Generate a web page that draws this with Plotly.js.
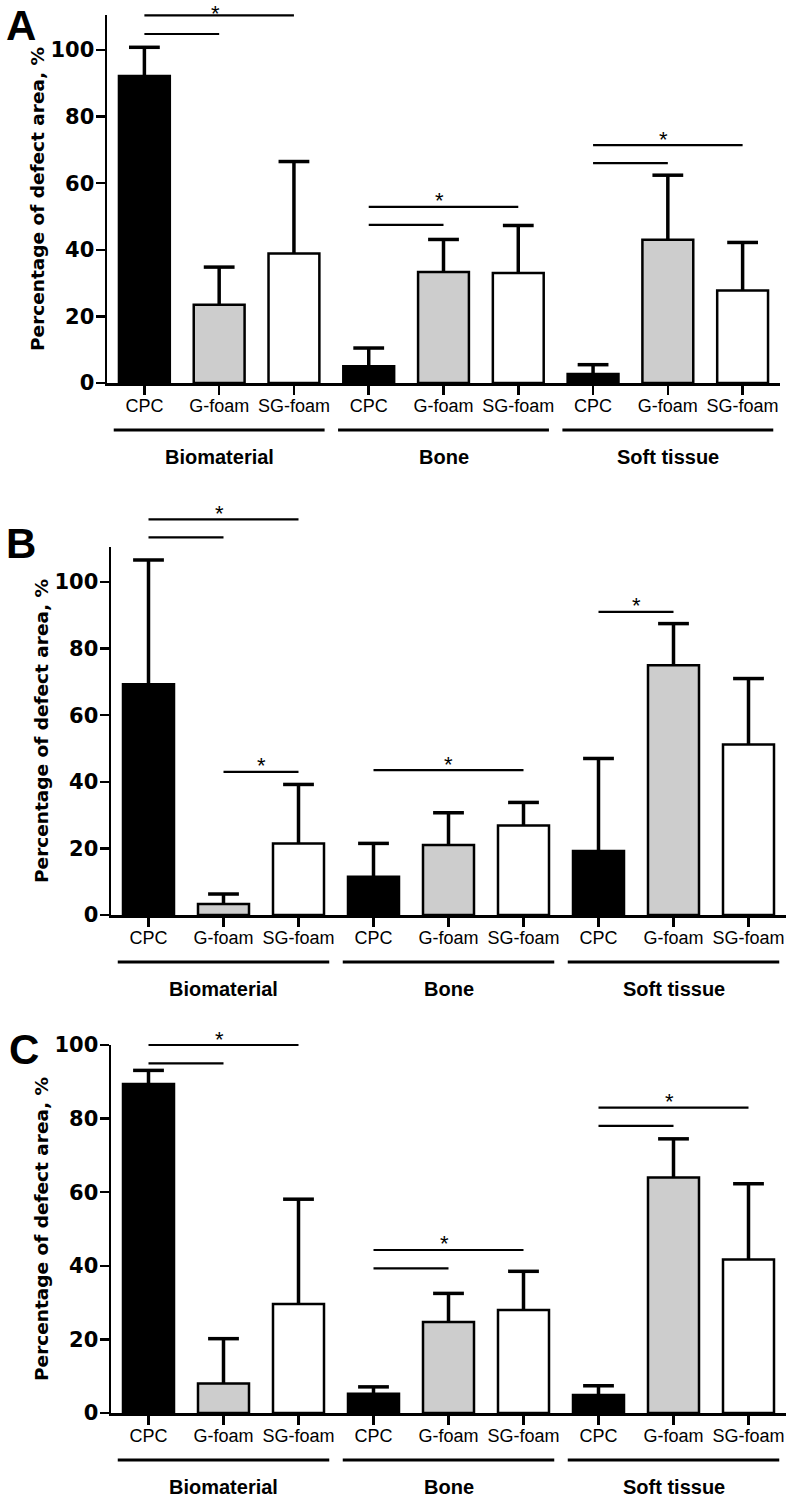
<!DOCTYPE html>
<html><head><meta charset="utf-8">
<script src="https://cdn.plot.ly/plotly-3.0.1.min.js"></script>
<style>html,body{margin:0;padding:0;background:#fff}#chart{width:788px;height:1497px}</style>
</head><body><div id="chart"></div>
<script>
// ---- data ----
const groups = ['Biomaterial', 'Bone', 'Soft tissue'];
const materials = ['CPC', 'G-foam', 'SG-foam'];
const panelLetters = ['A', 'B', 'C'];
const yTitle = 'Percentage of defect area, %';
const yTickVals = [0, 20, 40, 60, 80, 100];

// order: Biomaterial (CPC, G-foam, SG-foam), Bone (...), Soft tissue (...)
const meanA = [92.2, 23.5, 38.9, 5.0, 33.3, 33.0, 2.7, 43.0, 27.8];
const sdA   = [8.6, 11.3, 27.6, 5.5, 9.8, 14.3, 2.8, 19.4, 14.4];
const meanB = [69.3, 3.3, 21.5, 11.5, 21.0, 26.9, 19.2, 75.0, 51.2];
const sdB   = [37.3, 3.0, 17.7, 10.0, 9.7, 6.9, 27.8, 12.5, 19.8];
const meanC = [89.4, 8.0, 29.6, 5.2, 24.7, 28.0, 4.9, 64.0, 41.7];
const sdC   = [3.7, 12.2, 28.5, 1.9, 7.8, 10.5, 2.5, 10.5, 20.6];

// significance brackets: [fromIndex, toIndex, level (%), asterisk]
const sigA = [[0, 2, 110.4, true], [0, 1, 104.8, false], [3, 5, 52.9, true], [3, 4, 47.5, false], [6, 8, 71.4, true], [6, 7, 66.0, false]];
const sigB = [[0, 2, 118.8, true], [0, 1, 113.4, false], [1, 2, 43.0, true], [3, 5, 43.5, true], [6, 7, 91.0, true]];
const sigC = [[0, 2, 100.0, true], [0, 1, 95.0, false], [3, 5, 44.3, true], [3, 4, 39.3, false], [6, 8, 83.0, true], [6, 7, 78.0, false]];

// ---- styling / layout ----
const W = 788, H = 1497;
const fillColors = ['#000000', '#cdcdcd', '#ffffff'];
const panels = [
  {mean: meanA, sd: sdA, sig: sigA, ymax: 110.5, px: [107, 780], py: [15, 383], letter: [21, 25]},
  {mean: meanB, sd: sdB, sig: sigB, ymax: 110.5, px: [111, 786], py: [547, 915], letter: [21, 543]},
  {mean: meanC, sd: sdC, sig: sigC, ymax: 100, px: [111, 786], py: [1045, 1413], letter: [24, 1049]}
];
const xIdx = [];
const tickText = [];
const barColors = [];
groups.forEach((g, gi) => materials.forEach((m, mi) => {
  xIdx.push(gi * 3 + mi); tickText.push(m); barColors.push(fillColors[mi]);
}));

const data = [];
const layout = {
  width: W, height: H,
  margin: {l: 0, r: 0, t: 0, b: 0, autoexpand: false},
  paper_bgcolor: '#fff', plot_bgcolor: '#fff',
  barmode: 'overlay', showlegend: false,
  shapes: [], annotations: [],
  font: {family: 'Liberation Sans, Arial, sans-serif', color: '#000'}
};

panels.forEach((p, i) => {
  const s = i === 0 ? '' : String(i + 1);
  const xa = 'x' + s, ya = 'y' + s;
  data.push({
    type: 'bar', x: xIdx, y: p.mean, width: 0.68, xaxis: xa, yaxis: ya,
    marker: {color: barColors, line: {color: '#000', width: 2.5}},
    hoverinfo: 'x+y'
  });
  // upward-only error bars: cap marker at mean+SD, stem down to the bar top
  data.push({
    type: 'scatter', mode: 'markers', x: xIdx, y: p.mean.map((m, k) => m + p.sd[k]),
    xaxis: xa, yaxis: ya, cliponaxis: false,
    marker: {symbol: 'line-ew', size: 22, color: '#000', line: {color: '#000', width: 3.5}},
    error_y: {type: 'data', symmetric: false, array: p.sd.map(() => 0), arrayminus: p.sd,
              color: '#000', thickness: 3.5, width: 0},
    hoverinfo: 'skip'
  });
  const yTop = 1 - p.py[0] / H, yBot = 1 - p.py[1] / H;
  const domH = p.py[1] - p.py[0];
  layout['xaxis' + s] = {
    domain: [p.px[0] / W, p.px[1] / W], anchor: ya, range: [-0.5, 8.5],
    tickmode: 'array', tickvals: xIdx, ticktext: tickText,
    showline: true, linecolor: '#000', linewidth: 2.5,
    ticks: 'outside', ticklen: 9, tickwidth: 2.5, tickcolor: '#000',
    showgrid: false, zeroline: false, fixedrange: true,
    ticklabelstandoff: -4,
    tickfont: {family: 'Liberation Sans, Arial, sans-serif', size: 18, color: '#000'}
  };
  layout['yaxis' + s] = {
    domain: [yBot, yTop], anchor: xa, range: [0, p.ymax],
    tickmode: 'array', tickvals: yTickVals,
    showline: true, linecolor: '#000', linewidth: 2.5,
    ticks: 'outside', ticklen: 9, tickwidth: 2.5, tickcolor: '#000',
    showgrid: false, zeroline: false, fixedrange: true,
    ticklabelstandoff: -3,
    tickfont: {family: 'DejaVu Sans, sans-serif', size: 21, weight: 'bold', color: '#000'},
    title: {text: yTitle, standoff: 1,
            font: {family: 'DejaVu Sans, sans-serif', size: 18.5, weight: 'bold', color: '#000'}}
  };
  // significance brackets
  p.sig.forEach(([a, b, lvl, star]) => {
    layout.shapes.push({type: 'line', xref: xa, yref: ya + ' domain',
      x0: a, x1: b, y0: lvl / p.ymax, y1: lvl / p.ymax,
      line: {color: '#000', width: 2.2}});
    if (star) {
      const single = !p.sig.some(q => q[0] === a && q[1] !== b && !q[3]);
      const linePx = p.py[0] + (1 - lvl / p.ymax) * domH;   // distance from page top
      const lift = Math.max(1, Math.min(6, linePx - 13));   // keep text box inside page
      layout.annotations.push({xref: xa, yref: ya + ' domain', x: (a + b) / 2, y: lvl / p.ymax,
        text: '*', showarrow: false, xanchor: 'center', yanchor: 'middle', yshift: lift,
        borderpad: 0, xshift: single ? 0 : -4,
        font: {family: 'Liberation Sans, Arial, sans-serif', size: 22, color: '#000'}});
    }
  });
  // group underlines and labels
  groups.forEach((g, gi) => {
    const c = gi * 3 + 1;
    layout.shapes.push({type: 'line', xref: xa, yref: ya + ' domain',
      x0: c - 1.41, x1: c + 1.41, y0: -47 / domH, y1: -47 / domH,
      line: {color: '#000', width: 3}});
    layout.annotations.push({xref: xa, yref: ya + ' domain', x: c, y: -74 / domH,
      text: g, showarrow: false, xanchor: 'center', yanchor: 'middle',
      font: {family: 'Liberation Sans, Arial, sans-serif', size: 20, weight: 'bold', color: '#000'}});
  });
  // panel letter
  layout.annotations.push({xref: 'paper', yref: 'paper', x: p.letter[0] / W, y: 1 - p.letter[1] / H,
    text: panelLetters[i], showarrow: false, xanchor: 'center', yanchor: 'middle', borderpad: 0,
    font: {family: 'Liberation Sans, Arial, sans-serif', size: 42, weight: 'bold', color: '#000'}});
});

Plotly.newPlot('chart', data, layout, {displayModeBar: false, staticPlot: true});
</script>
</body></html>
